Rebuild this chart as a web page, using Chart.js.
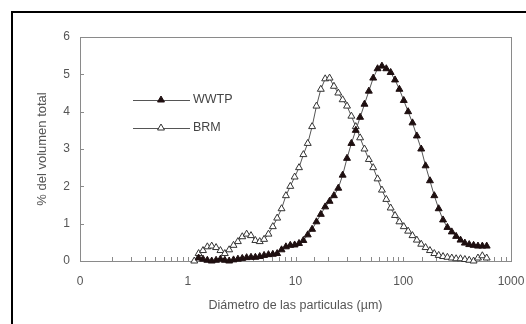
<!DOCTYPE html>
<html><head><meta charset="utf-8">
<script src="https://cdn.jsdelivr.net/npm/chart.js@4/dist/chart.umd.min.js"></script>
<style>
html,body{margin:0;padding:0;background:#fff;}
#wrap{position:relative;width:526px;height:324px;overflow:hidden;background:#fff;}
#frame{position:absolute;left:11px;top:11px;width:600px;height:400px;border-left:2px solid #000;border-top:2px solid #000;pointer-events:none;}
canvas{position:absolute;left:0;top:0;}
</style></head><body>
<div id="wrap"><canvas id="c" width="526" height="324"></canvas><div id="frame"></div></div>
<script>
// Particle diameters (µm), channel centres
const sizes = [1.149,1.261,1.385,1.520,1.669,1.832,2.011,2.208,2.423,2.660,2.920,3.206,3.519,3.863,4.241,4.656,5.111,5.611,6.159,6.761,7.422,8.148,8.944,9.819,10.78,11.83,12.99,14.26,15.65,17.18,18.86,20.71,22.73,24.95,27.39,30.07,33.01,36.24,39.78,43.67,47.94,52.62,57.77,63.41,69.61,76.42,83.89,92.09,101.1,111.0,121.8,133.7,146.8,161.2,176.9,194.2,213.2,234.1,256.9,282.1,309.6,339.9,373.1,409.6,449.7,493.6,541.9,594.9];
// % del volumen total
const wwtp = [null,0.08,0.05,0.02,0.0,0.02,0.05,0.02,0.0,0.03,0.05,0.07,0.09,0.10,0.10,0.12,0.15,0.17,0.18,0.20,0.30,0.38,0.42,0.43,0.47,0.55,0.70,0.85,1.05,1.25,1.45,1.60,1.75,1.95,2.30,2.75,3.15,3.50,3.85,4.20,4.55,4.90,5.15,5.22,5.15,5.05,4.85,4.60,4.30,4.00,3.70,3.35,3.00,2.55,2.15,1.75,1.40,1.10,0.90,0.78,0.66,0.56,0.48,0.44,0.42,0.40,0.40,0.40];
const brm  = [0.0,0.20,0.28,0.38,0.40,0.36,0.28,0.20,0.30,0.42,0.52,0.65,0.72,0.68,0.55,0.52,0.58,0.72,0.92,1.15,1.40,1.75,2.00,2.25,2.50,2.85,3.15,3.60,4.15,4.60,4.88,4.90,4.68,4.50,4.32,4.15,3.88,3.60,3.30,3.00,2.72,2.50,2.20,1.90,1.65,1.42,1.22,1.05,0.92,0.80,0.68,0.56,0.45,0.36,0.28,0.20,0.15,0.12,0.10,0.08,0.06,0.06,0.04,0.02,0.00,0.08,0.14,0.08];
const seriesNames = ['WWTP','BRM'];
const xTickValues = [0.1,1,10,100,1000];
const xTickLabels = ['0','1','10','100','1000'];
const yTickValues = [0,1,2,3,4,5,6];

const toPts = arr => sizes.map((s,i)=>({x:s,y:arr[i]})).filter(p=>p.y!==null);

Chart.defaults.font.family = '"Liberation Sans", Arial, sans-serif';
Chart.defaults.font.size = 12;

const TXT = '#555';
const AX = '#8a8a8a';

const boxPlugin = {
  id:'boxTicks',
  beforeDatasetsDraw(chart){
    const {ctx, chartArea:ca, scales:{x, y}} = chart;
    ctx.save();
    ctx.strokeStyle = AX; ctx.lineWidth = 1;
    ctx.strokeRect(Math.round(ca.left)+0.5, Math.round(ca.top)+0.5, Math.round(ca.right-ca.left), Math.round(ca.bottom-ca.top));
    ctx.beginPath();
    x.ticks.forEach(t=>{
      const px = Math.round(x.getPixelForValue(t.value))+0.5;
      ctx.moveTo(px, ca.bottom); ctx.lineTo(px, ca.bottom-4);
    });
    y.ticks.forEach(t=>{
      const py = Math.round(y.getPixelForValue(t.value))+0.5;
      ctx.moveTo(ca.left, py); ctx.lineTo(ca.left+4, py);
    });
    ctx.stroke();
    ctx.restore();
  }
};

const legendPlugin = {
  id:'inLegend',
  afterDraw(chart){
    const {ctx, chartArea:ca} = chart;
    ctx.save();
    chart.data.datasets.forEach((ds,i)=>{
      const yy = ca.top + 63 + i*28;
      const x1 = ca.left + 53, x2 = ca.left + 110, cx = ca.left + 81;
      ctx.strokeStyle = ds.borderColor; ctx.lineWidth = 1;
      ctx.beginPath(); ctx.moveTo(x1, yy+0.5); ctx.lineTo(x2, yy+0.5); ctx.stroke();
      const r = ds.pointRadius;
      ctx.beginPath();
      ctx.moveTo(cx, yy - r);
      ctx.lineTo(cx + r*0.866, yy + r*0.5);
      ctx.lineTo(cx - r*0.866, yy + r*0.5);
      ctx.closePath();
      ctx.fillStyle = ds.pointBackgroundColor; ctx.fill();
      ctx.strokeStyle = ds.pointBorderColor; ctx.stroke();
      ctx.fillStyle = '#444'; ctx.font = '12.5px "Liberation Sans", Arial, sans-serif';
      ctx.textBaseline = 'middle'; ctx.textAlign = 'left';
      ctx.fillText(ds.label, x2 + 3, yy);
    });
    ctx.restore();
  }
};

new Chart(document.getElementById('c'), {
  type:'line',
  data:{datasets:[
    {label:seriesNames[0], data:toPts(wwtp), borderColor:'#555', borderWidth:1, pointStyle:'triangle', pointRadius:4,
     pointBackgroundColor:'#1e0f10', pointBorderColor:'#1e0f10', pointBorderWidth:1, tension:0, clip:false},
    {label:seriesNames[1], data:toPts(brm), borderColor:'#555', borderWidth:1, pointStyle:'triangle', pointRadius:4,
     pointBackgroundColor:'#fff', pointBorderColor:'#333', pointBorderWidth:1, tension:0, clip:false}
  ]},
  options:{
    responsive:false, animation:false, devicePixelRatio:1,
    layout:{padding:{top:37, right:15, left:0, bottom:0}},
    plugins:{legend:{display:false}, tooltip:{enabled:false}},
    scales:{
      x:{type:'logarithmic', min:0.1, max:1000,
        grid:{display:false, drawTicks:false}, border:{display:false},
        ticks:{autoSkip:false, maxRotation:0, minRotation:0, padding:13, color:TXT, font:{size:12},
          callback:(v)=>{const i = xTickValues.findIndex(t=>Math.abs(t-v)/t<1e-6); return i>=0 ? xTickLabels[i] : '';}},
        title:{display:true, text:'Diámetro de las particulas (µm)', color:TXT, font:{size:12.5}, padding:{top:0,bottom:11}},
        afterFit:s=>{s.height = 63; s.paddingRight = 0; s.paddingLeft = 0;}
      },
      y:{min:0, max:6,
        afterBuildTicks:s=>{s.ticks = yTickValues.map(v=>({value:v}));},
        grid:{display:false, drawTicks:false}, border:{display:false},
        ticks:{padding:10, color:TXT, font:{size:12}},
        title:{display:true, text:'% del volumen total', color:TXT, font:{size:13}, padding:{top:35,bottom:0}},
        afterFit:s=>{s.width = 80; s.paddingTop = 0; s.paddingBottom = 0;}
      }
    }
  },
  plugins:[boxPlugin, legendPlugin]
});
</script>
</body></html>
